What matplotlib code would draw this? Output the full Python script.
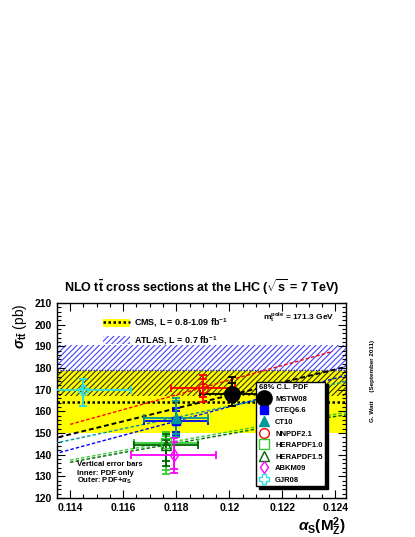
import matplotlib
matplotlib.use("Agg")
import matplotlib.pyplot as plt
from matplotlib.lines import Line2D
from matplotlib.patches import Patch
from matplotlib.ticker import MultipleLocator, FormatStrFormatter

plt.rcParams['font.family'] = ['Liberation Sans', 'DejaVu Sans']
plt.rcParams['font.weight'] = 'bold'
plt.rcParams['mathtext.fontset'] = 'custom'
plt.rcParams['mathtext.rm'] = 'Liberation Sans:bold'
plt.rcParams['mathtext.it'] = 'Liberation Sans:italic:bold'
plt.rcParams['mathtext.bf'] = 'Liberation Sans:bold'
plt.rcParams['hatch.linewidth'] = 0.8

# measurements (pb)
CMS_XSEC, CMS_ERR = 164.4, 14.3
ATLAS_XSEC, ATLAS_ERR = 179.0, 11.8

# PDF predictions: central point, alpha_s uncertainty, PDF (inner) and PDF+alpha_s (outer) ranges
pdf_names = ["MSTW08", "CTEQ6.6", "CT10", "NNPDF2.1", "HERAPDF1.0", "HERAPDF1.5", "ABKM09", "GJR08"]
pdf_alphas = [0.1201, 0.1180, 0.1180, 0.1190, 0.1176, 0.1176, 0.1179, 0.1145]
pdf_xsec = [168.2, 155.4, 157.1, 171.0, 145.5, 144.6, 139.9, 170.0]
pdf_alphas_err = [0.0012, 0.0012, 0.0012, 0.0012, 0.0012, 0.0012, 0.0016, 0.0018]
pdf_inner_lo = [164.5, 150.7, 149.5, 166.5, 133.0, 137.0, 133.5, 162.3]
pdf_inner_hi = [173.3, 160.1, 164.7, 175.0, 148.5, 147.0, 146.0, 175.1]
pdf_outer_lo = [162.5, 149.2, 148.0, 164.2, 131.1, 135.0, 131.5, 162.3]
pdf_outer_hi = [176.1, 161.6, 166.2, 177.0, 150.3, 149.5, 147.7, 175.1]

# sigma vs alpha_s dependence for each PDF set
mstw_line_as = [0.113, 0.1155, 0.118, 0.1205, 0.123, 0.125]
mstw_line_xs = [146.4, 153.9, 161.4, 168.9, 176.4, 182.4]
cteq_line_as = [0.113, 0.1155, 0.118, 0.1205, 0.123, 0.125]
cteq_line_xs = [139.0, 147.3, 155.5, 163.8, 172.0, 178.6]
ct10_line_as = [0.113, 0.1155, 0.118, 0.1205, 0.123, 0.125]
ct10_line_xs = [144.2, 150.7, 157.2, 163.7, 170.2, 175.4]
nnpdf_line_as = [0.114, 0.116, 0.118, 0.120, 0.122, 0.1239]
nnpdf_line_xs = [154.0, 160.8, 167.6, 174.4, 181.2, 187.7]
hera10_line_as = [0.114, 0.116, 0.118, 0.120, 0.122, 0.125]
hera10_line_xs = [137.5, 142.0, 146.3, 150.6, 155.0, 160.5]
hera15_line_as = [0.114, 0.116, 0.118, 0.120, 0.122, 0.125]
hera15_line_xs = [136.5, 141.0, 145.3, 149.6, 154.0, 159.5]

colors = {"MSTW08": "black", "CTEQ6.6": "#0000ff", "CT10": "#009999",
          "NNPDF2.1": "#ff0000", "HERAPDF1.0": "#33cc33", "HERAPDF1.5": "#006600",
          "ABKM09": "#ff00ff", "GJR08": "#33dddd"}
markers = {"MSTW08": ("o", 11, True), "CTEQ6.6": ("s", 6, True), "CT10": ("^", 7, True),
           "NNPDF2.1": ("o", 7, False), "HERAPDF1.0": ("s", 7, False), "HERAPDF1.5": ("^", 7, False),
           "ABKM09": ("d", 6, False), "GJR08": ("P", 7, False)}

fig = plt.figure(figsize=(4.15, 5.37), dpi=100)
ax = fig.add_axes([0.137, 0.0726, 0.697, 0.363])
ax.set_xlim(0.1135, 0.1244)
ax.set_ylim(120, 210)

# CMS band and ATLAS hatched band
cms_lo, cms_hi = CMS_XSEC - CMS_ERR, CMS_XSEC + CMS_ERR
atl_lo, atl_hi = ATLAS_XSEC - ATLAS_ERR, ATLAS_XSEC + ATLAS_ERR
ax.axhspan(cms_lo, cms_hi, color="#ffff00", lw=0, zorder=1)
ax.axhline(CMS_XSEC, color="black", ls=(0, (1, 1)), lw=1.8, zorder=2)
ax.axhspan(max(cms_hi, atl_lo), atl_hi, facecolor="none", edgecolor="#4444ff",
           hatch="//////", lw=0, zorder=1.5)
ax.axhspan(atl_lo, min(cms_hi, atl_hi), facecolor="none", edgecolor="#333300",
           hatch="//////", lw=0, zorder=1.5)
ax.axhline(ATLAS_XSEC, color="#333355", ls=(0, (1, 1)), lw=1.0, zorder=2)

# alpha_s dependence
dash = (0, (2.5, 1.5))
ax.plot(mstw_line_as, mstw_line_xs, color=colors["MSTW08"], ls=dash, lw=1.4, zorder=3)
ax.plot(cteq_line_as, cteq_line_xs, color=colors["CTEQ6.6"], ls=dash, lw=1.0, zorder=3)
ax.plot(ct10_line_as, ct10_line_xs, color=colors["CT10"], ls=dash, lw=1.0, zorder=3)
ax.plot(nnpdf_line_as, nnpdf_line_xs, color=colors["NNPDF2.1"], ls=dash, lw=1.0, zorder=3)
ax.plot(hera10_line_as, hera10_line_xs, color=colors["HERAPDF1.0"], ls=dash, lw=1.0, zorder=3)
ax.plot(hera15_line_as, hera15_line_xs, color=colors["HERAPDF1.5"], ls=dash, lw=1.0, zorder=3)

# points with error bars
for i, name in enumerate(pdf_names):
    c = colors[name]
    a, s = pdf_alphas[i], pdf_xsec[i]
    ax.errorbar([a], [s], xerr=[pdf_alphas_err[i]], fmt="none", ecolor=c,
                elinewidth=1.3, capsize=3, capthick=1.3, zorder=4)
    ax.errorbar([a], [s], yerr=[[s - pdf_outer_lo[i]], [pdf_outer_hi[i] - s]], fmt="none",
                ecolor=c, elinewidth=1.3, capsize=3, capthick=1.3, zorder=4)
    ax.errorbar([a], [s], yerr=[[s - pdf_inner_lo[i]], [pdf_inner_hi[i] - s]], fmt="none",
                ecolor=c, elinewidth=1.3, capsize=3, capthick=1.3, zorder=4)
    m, ms, filled = markers[name]
    ax.plot([a], [s], ls="none", marker=m, ms=ms, color=c,
            mfc=c if filled else "none", mew=1.0, zorder=5)

# axes styling (ROOT look)
ax.xaxis.set_major_locator(MultipleLocator(0.002))
ax.xaxis.set_minor_locator(MultipleLocator(0.0005))
ax.xaxis.set_major_formatter(FormatStrFormatter("%g"))
ax.yaxis.set_major_locator(MultipleLocator(10))
ax.yaxis.set_minor_locator(MultipleLocator(2))
ax.tick_params(which="both", direction="in", top=True, right=True, labelsize=7.5)
ax.tick_params(which="major", length=6, width=0.8)
ax.tick_params(which="minor", length=3, width=0.8)
for sp in ax.spines.values():
    sp.set_linewidth(1.0)

ax.set_title(r"NLO $\mathrm{t\bar{t}}$ cross sections at the LHC ($\sqrt{\mathrm{s}}$ = 7 TeV)",
             fontsize=9, fontweight="bold", pad=8)
ax.set_ylabel(r"$\sigma_{\mathrm{t\bar{t}}}$ (pb)", fontsize=10, loc="top", labelpad=4)
ax.set_xlabel(r"$\alpha_{\mathrm{S}}(\mathrm{M}_{\mathrm{Z}}^{2})$", fontsize=11)
ax.xaxis.set_label_coords(1.0, -0.088)
ax.xaxis.label.set_horizontalalignment("right")
ax.xaxis.label.set_verticalalignment("top")

ax.text(0.96, 0.925, r"m$_{\mathrm{t}}^{\mathrm{pole}}$ = 171.3 GeV", transform=ax.transAxes,
        ha="right", va="center", fontsize=6)
ax.text(0.07, 0.17, "Vertical error bars", transform=ax.transAxes, fontsize=5.5, va="center")
ax.text(0.07, 0.128, "Inner: PDF only", transform=ax.transAxes, fontsize=5.5, va="center")
ax.text(0.07, 0.087, r"Outer: PDF+$\alpha_{\mathrm{S}}$", transform=ax.transAxes, fontsize=5.5, va="center")
fig.text(0.897, 0.215, "G. Watt     (September 2011)", rotation=90, fontsize=4.5,
         ha="center", va="bottom")

# band legend
band_handles = [(Patch(facecolor="#ffff00", lw=0), Line2D([], [], color="black", ls=(0, (1, 1)), lw=1.8)),
                Patch(facecolor="white", edgecolor="#4444ff", hatch="//////", lw=0)]
leg1 = ax.legend(band_handles, [r"CMS, L = 0.8-1.09 fb$^{-1}$", r"ATLAS, L = 0.7 fb$^{-1}$"],
                 loc="upper left", bbox_to_anchor=(0.13, 0.972), frameon=False, fontsize=6.5,
                 handlelength=3.0, handleheight=1.0, labelspacing=0.5, handletextpad=0.5)
ax.add_artist(leg1)

# PDF legend
pdf_handles = []
for name in pdf_names:
    m, ms, filled = markers[name]
    c = colors[name]
    pdf_handles.append(Line2D([], [], ls="none", marker=m, ms=ms, color=c,
                              mfc=c if filled else "none", mew=1.0))
leg2 = ax.legend(pdf_handles, pdf_names, title="68% C.L. PDF", loc="upper left",
                 bbox_to_anchor=(0.69, 0.597), fontsize=5.5, title_fontsize=5.5,
                 frameon=True, fancybox=False, edgecolor="black", framealpha=1,
                 shadow={"color": "black", "alpha": 1}, labelspacing=0.55,
                 handlelength=1.2, handletextpad=0.9, borderpad=0.35, borderaxespad=0)
leg2._legend_box.align = "left"
leg2.get_frame().set_linewidth(1.0)
leg2.set_zorder(10)

fig.savefig("out.png", dpi=100)
